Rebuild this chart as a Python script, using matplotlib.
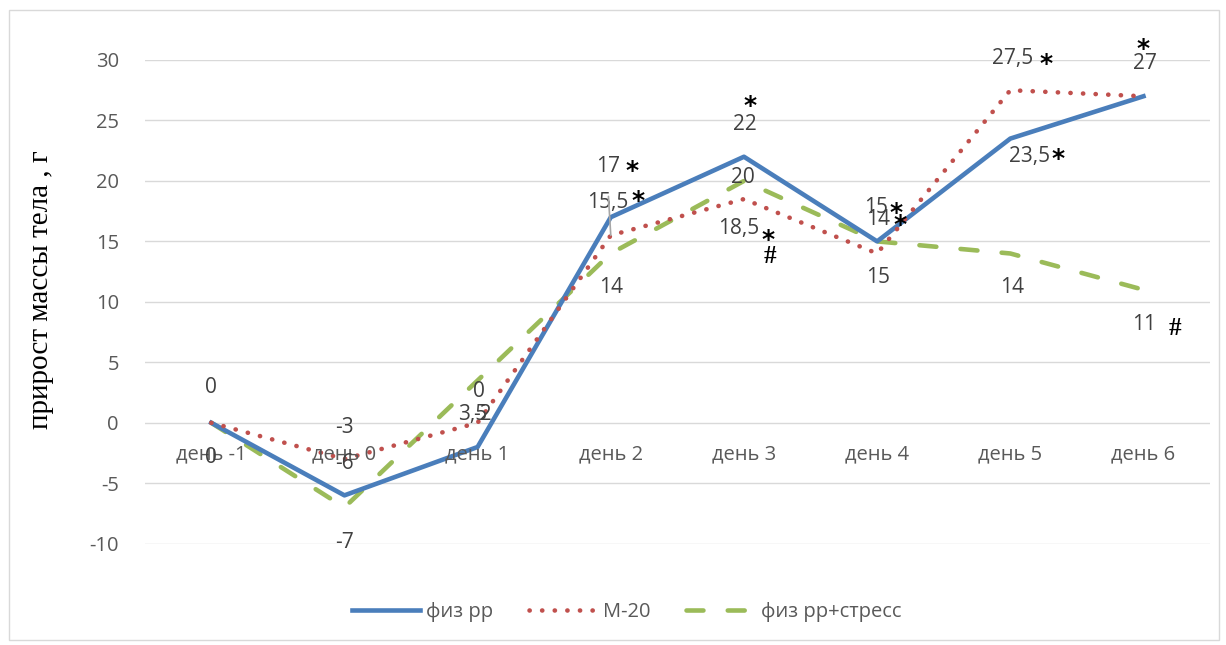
import matplotlib
matplotlib.use("Agg")
import matplotlib.pyplot as plt
from matplotlib.patches import Rectangle

# data
days = ['день -1', 'день 0', 'день 1', 'день 2', 'день 3', 'день 4', 'день 5', 'день 6']
fiz = [0, -6, -2, 17, 22, 15, 23.5, 27]
m20 = [0, -3, 0, 15.5, 18.5, 14, 27.5, 27]
stress = [0, -7, 3.5, 14, 20, 15, 14, 11]

series_names = ['физ рр', 'М-20', 'физ рр+стресс']

# data labels: (series, day index, text, dx px, dy px)
labels = [
    (m20, 0, '0', 0, 35), (stress, 0, '0', 0, -35),
    (m20, 1, '-3', 0, 32), (fiz, 1, '-6', 0, 32), (stress, 1, '-7', 0, -35),
    (m20, 2, '0', 1, 31), (stress, 2, '3,5', -5, -34), (fiz, 2, '-2', 5, 32),
    (fiz, 3, '17', -3, 51), (m20, 3, '15,5', -3, 33), (stress, 3, '14', 0, -34),
    (fiz, 4, '22', 1, 32), (stress, 4, '20', -1, 3), (m20, 4, '18,5', -5, -29),
    (fiz, 5, '15', -1, 34), (m20, 5, '14', 1, 34), (stress, 5, '15', 1, -36),
    (m20, 6, '27,5', 2, 32), (fiz, 6, '23,5', 19, -18), (stress, 6, '14', 2, -34),
    (fiz, 7, '27', 1, 33), (stress, 7, '11', 1, -35),
]
# significance marks: (series, day index, mark, dx px, dy px of glyph centre)
marks = [
    (fiz, 3, '*', 21, 54), (m20, 3, '*', 27, 42),
    (fiz, 4, '*', 6, 59), (m20, 4, '*', 24, -33), (m20, 4, '#', 26, -56),
    (fiz, 5, '*', 19, 36), (m20, 5, '*', 23, 36),
    (m20, 6, '*', 36, 34), (fiz, 6, '*', 48, -12),
    (fiz, 7, '*', 0, 55), (stress, 7, '#', 31, -37),
]

plt.rcParams['font.family'] = ['Open Sans', 'DejaVu Sans']
plt.rcParams['axes.unicode_minus'] = False

fig = plt.figure(figsize=(12.26, 6.45), dpi=100)
fig.patches.append(Rectangle((0.007, 0.008), 0.987, 0.977, transform=fig.transFigure,
                             fill=False, edgecolor='#d9d9d9', linewidth=1))
ax = fig.add_axes([0.118, 0.157, 0.869, 0.75])

x = list(range(len(days)))
ax.plot(x, fiz, color='#4a7ebb', linewidth=3.3, label=series_names[0], zorder=3)
ax.plot(x, m20, color='#c0504d', linewidth=3.3, linestyle=(0, (0.05, 2.7)),
        dash_capstyle='round', label=series_names[1], zorder=3)
ax.plot(x, stress, color='#9bbb59', linewidth=3.3, linestyle=(0, (3.7, 5.3)),
        dash_capstyle='round', label=series_names[2], zorder=2)

ax.set_xlim(-0.5, len(days) - 0.5)
ax.set_ylim(-10, 30)
ax.set_yticks(range(-10, 31, 5))
ax.grid(axis='y', color='#d9d9d9', linewidth=1)
ax.set_axisbelow(True)
for s in ax.spines.values():
    s.set_visible(False)
ax.tick_params(length=0, labelsize=14.5, labelcolor='#595959')
ax.tick_params(axis='y', pad=18.5)
ax.set_xticks(x)
ax.set_xticklabels([])
for i, d in enumerate(days):
    ax.annotate(d, (i, 0), xytext=(0, -32), textcoords='offset pixels',
                ha='center', va='center', fontsize=14.5, color='#595959')

ax.set_ylabel('прирост массы тела , г', family='Liberation Serif', fontsize=21,
              color='black')
ax.yaxis.set_label_coords(-0.085, 0.525)

for ser, i, t, dx, dy in labels:
    ax.annotate(t, (i, ser[i]), xytext=(dx, dy), textcoords='offset pixels',
                ha='center', va='center', fontsize=15, color='#404040')
for ser, i, t, dx, dy in marks:
    if t == '*':
        ax.annotate(t, (i, ser[i]), xytext=(dx, dy - 15), textcoords='offset pixels',
                    ha='center', va='baseline', fontsize=18, color='black',
                    family='DejaVu Sans', fontweight='bold')
    else:
        ax.annotate(t, (i, ser[i]), xytext=(dx, dy - 8), textcoords='offset pixels',
                    ha='center', va='baseline', fontsize=18, color='black',
                    family='Liberation Serif', fontweight='bold')

# leader line for the "17" label
ax.annotate('', xy=(3, m20[3]), xytext=(-3, 50), textcoords='offset pixels',
            arrowprops=dict(arrowstyle='-', color='#a6a6a6', lw=1.2,
                            shrinkA=8, shrinkB=0))

fig.legend(loc='center', ncol=3, bbox_to_anchor=(0.511, 0.051), frameon=False,
           fontsize=14.5, handlelength=3.4, columnspacing=1.75,
           labelcolor='#595959', handletextpad=0.3)

fig.savefig('out.png', dpi=100)
